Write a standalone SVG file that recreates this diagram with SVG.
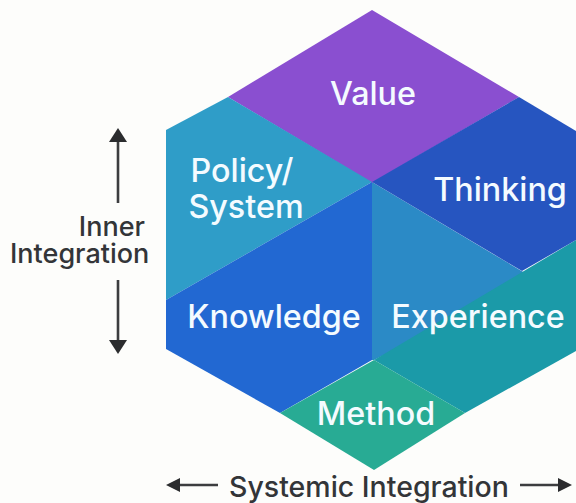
<svg xmlns="http://www.w3.org/2000/svg" width="576" height="503" viewBox="0 0 576 503">
<style>
text{font-family:"Inter","Liberation Sans",sans-serif}
.w{fill:#f4fbff;font-size:32.3px;font-weight:500;text-anchor:middle}
.d{fill:#333538;font-size:27px;font-weight:500}
.s{font-size:28.5px}
.a{stroke:#3c3d3f;stroke-width:2.6;fill:none}
.h{fill:#2b2c2e}
</style>
<rect width="576" height="503" fill="#fdfdfb"/>
<g id="experience"><polygon points="372,182 535,279 374,360 372,360" fill="#2b8ac6"/><polygon points="576,240 374,360 465,413 576,351" fill="#1b9aa8"/><text class="w" x="478" y="328">Experience</text></g>
<g id="value"><polygon points="372,10 519,97 372,183 228,97" fill="#8a4fd0"/><text class="w" x="373" y="105">Value</text></g>
<g id="policy"><polygon points="228,97 372,182 166,300 166,130" fill="#2f9dc8"/><text class="w"><tspan x="242" y="182">Policy/</tspan><tspan x="246" y="218">System</tspan></text></g>
<g id="thinking"><polygon points="372,182 519,97 576,131 576,240 522,271" fill="#2655c0"/><text class="w" x="500" y="201">Thinking</text></g>
<g id="knowledge"><polygon points="166,300 372,182 372,360 280,413 166,349" fill="#2268d2"/><text class="w" x="274" y="328">Knowledge</text></g>
<g id="method"><polygon points="374,360 465,413 374,470 280,413" fill="#28ab94"/><text class="w" x="376" y="425">Method</text></g>
<g id="inner"><text class="d" text-anchor="end" x="145" y="236">Inner</text><text class="d" x="10" y="263">Integration</text></g>
<g id="systemic"><text class="d s" x="229" y="497">Systemic Integration</text></g>
<g id="connectors">
<line class="a" x1="118" y1="203" x2="118" y2="140"/><polygon class="h" points="118,128 127,142 109,142"/>
<line class="a" x1="118" y1="280" x2="118" y2="342"/><polygon class="h" points="118,354 127,340 109,340"/>
<line class="a" x1="218" y1="485" x2="178" y2="485"/><polygon class="h" points="166,485 180,478 180,492"/>
<line class="a" x1="520" y1="485" x2="560" y2="485"/><polygon class="h" points="572,485 558,478 558,492"/>
</g>
</svg>
